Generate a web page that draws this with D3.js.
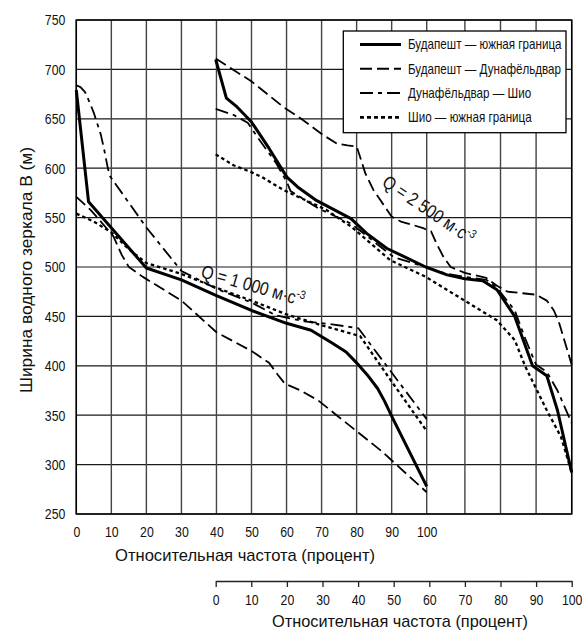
<!DOCTYPE html>
<html>
<head>
<meta charset="utf-8">
<script src="https://cdn.jsdelivr.net/npm/d3@7"></script>
<style>
  html, body { margin: 0; padding: 0; background: #fff; }
  svg { display: block; }
  text { font-family: "Liberation Sans", Arial, sans-serif; fill: #111; }
</style>
</head>
<body>
<svg id="chart" width="584" height="630"></svg>
<script>
// ---- Q = 1 000 m·s-3 : plotted against the upper (first) frequency axis ----
const q1000BudapestSouth = [[0,679],[3.5,566],[20,499],[30,487],[40,471],[50,456],[60,443],[63,440],[67,436],[73,423],[77,414],[80,403],[83,391],[86,377],[88,364],[90,349],[100,278]];
const q1000BudapestDunafoldvar = [[0,571],[4,558],[7,546],[10.6,531],[13,512],[15,500],[19,490],[30,466],[40,434],[50,415],[55,403],[57.5,391],[59.5,382],[64,375],[69,365],[75,348],[87,314],[100,272]];
const q1000DunafoldvarSio = [[0,684],[1.2,682],[2.5,677],[4,665],[5,656],[6,645],[7,634],[8,618],[9,600],[9.6,592],[20,540],[30,496],[40,478],[50,464],[57,451],[65,445],[73,442],[80.5,438],[100,346]];
const q1000SioSouth = [[0,554],[5,546],[10,535],[15,518],[20,504],[30,493],[40,479],[50,466],[60,452],[70,441],[81,430],[90,384],[100,334]];

// ---- Q = 2 500 m·s-3 : plotted against the lower (second) frequency axis ----
const q2500BudapestSouth = [[0,710],[3,671],[6,662],[10,647],[15,620],[20,591],[23,581],[28,568],[38,549],[42.4,534],[48,519],[59,500],[65,492],[70,488],[75,486],[79,477],[84,450],[89,400],[93,390],[96,355],[100,292]];
const q2500BudapestDunafoldvar = [[0,711],[10,688],[19,662],[24,650],[30,634],[34,625],[37,623],[39.6,622],[40.5,612],[42,595],[44.3,578],[46.2,568],[49.4,551],[52,546],[55,543],[58.5,539],[60.5,536],[62,524],[64,510],[66,500],[70,494],[76,489],[79,481],[82,475],[90,472],[93,466],[95,456],[96.5,443],[100,401]];
const q2500DunafoldvarSio = [[0,660],[5,654],[9,646],[12,630],[17,605],[20,586],[21,577],[29,559],[38,544],[50,510],[59,500],[65,493],[70,490],[76,487],[79,479],[84,456],[87,427],[90,401],[93,394],[96,375],[100,342]];
const q2500SioSouth = [[0,614],[5,603],[10,596],[13,591],[19,578],[25,568],[31,558],[38,541],[49,507],[59,490],[69,468],[79,446],[84,426],[87,399],[93,355],[97,328],[100,292]];

const seriesNames = ["Будапешт — южная граница", "Будапешт — Дунафёльдвар", "Дунафёльдвар — Шио", "Шио — южная граница"];
const yTicks = [250, 300, 350, 400, 450, 500, 550, 600, 650, 700, 750];
const xTicks = [0, 10, 20, 30, 40, 50, 60, 70, 80, 90, 100];
const yTitle = "Ширина водного зеркала B (м)";
const xTitle = "Относительная частота  (процент)";
const flowLabels = ["Q = 1 000 м·с", "Q = 2 500 м·с"];
const flowExponent = "-3";

// line styles per reach: solid, long dash, dash-dot, dotted
const styles = [
  { dash: null, width: 3 },
  { dash: "12,5", width: 1.8 },
  { dash: "13,5,4,5", width: 1.8 },
  { dash: "3.5,3", width: 2.3 }
];

// horizontal squeeze giving the narrow typeface look
const NARROW = 0.82;
function condense(sel, k) {
  sel.each(function () {
    const t = d3.select(this);
    const tx = +t.attr("x") || 0, ty = +t.attr("y") || 0;
    const base = t.attr("transform") || "";
    t.attr("transform", `${base} translate(${tx},${ty}) scale(${k},1) translate(${-tx},${-ty})`);
  });
}

const svg = d3.select("#chart");
const plotLeft = 76.3, plotRight = 571.7, plotTop = 20, plotBottom = 514;

const y = d3.scaleLinear().domain([250, 750]).range([plotBottom, plotTop]);
const x1 = d3.scaleLinear().domain([0, 100]).range([plotLeft, 426.7]);
const x2 = d3.scaleLinear().domain([0, 100]).range([215.7, plotRight]);

// grid
const grid = svg.append("g");
grid.selectAll("line.h").data(yTicks).join("line").attr("class", "h")
  .attr("stroke", "#1a1a1a").attr("stroke-width", 1.2)
  .attr("x1", plotLeft).attr("x2", plotRight)
  .attr("y1", d => y(d)).attr("y2", d => y(d));
grid.selectAll("line.v1").data(xTicks).join("line").attr("class", "v1")
  .attr("stroke", "#444").attr("stroke-width", 1.4)
  .attr("x1", d => x1(d)).attr("x2", d => x1(d))
  .attr("y1", plotTop).attr("y2", plotBottom);
grid.selectAll("line.v2").data(xTicks.filter(t => t >= 70)).join("line").attr("class", "v2")
  .attr("stroke", "#444").attr("stroke-width", 1.4)
  .attr("x1", d => x2(d)).attr("x2", d => x2(d))
  .attr("y1", plotTop).attr("y2", plotBottom);

svg.append("rect")
  .attr("x", plotLeft).attr("y", plotTop)
  .attr("width", plotRight - plotLeft).attr("height", plotBottom - plotTop)
  .attr("fill", "none").attr("stroke", "#000").attr("stroke-width", 1.5);

// y axis labels
const yAxis = svg.append("g").attr("transform", `translate(${plotLeft},0)`)
  .call(d3.axisLeft(y).tickValues(yTicks).tickSize(0).tickPadding(11));
yAxis.select(".domain").remove();
yAxis.attr("font-family", null).attr("font-size", null);
yAxis.selectAll("text").attr("font-size", 15).attr("fill", "#111").call(condense, NARROW);

// first frequency axis (labels only, the frame acts as the axis line)
const xAxis1 = svg.append("g").attr("transform", `translate(0,${plotBottom})`)
  .call(d3.axisBottom(x1).tickValues(xTicks).tickSize(0).tickPadding(12.5).tickFormat(d3.format("d")));
xAxis1.select(".domain").remove();
xAxis1.attr("font-family", null).attr("font-size", null);
xAxis1.selectAll("text").attr("font-size", 15).attr("fill", "#111").call(condense, NARROW);

// second frequency axis
const xAxis2 = svg.append("g").attr("transform", "translate(0,581)")
  .call(d3.axisBottom(x2).tickValues(xTicks).tickSizeInner(6).tickSizeOuter(0).tickPadding(7.5).tickFormat(d3.format("d")));
xAxis2.attr("font-family", null).attr("font-size", null);
xAxis2.select(".domain").attr("stroke", "#222").attr("stroke-width", 1.3);
xAxis2.selectAll(".tick line").attr("stroke", "#222").attr("stroke-width", 1.3);
xAxis2.selectAll("text").attr("font-size", 15).attr("fill", "#111").call(condense, NARROW);

// axis titles
svg.append("text").attr("x", 245).attr("y", 561).attr("text-anchor", "middle")
  .attr("font-size", 17).attr("textLength", 260).attr("lengthAdjust", "spacingAndGlyphs").text(xTitle);
svg.append("text").attr("x", 400).attr("y", 627).attr("text-anchor", "middle")
  .attr("font-size", 17).attr("textLength", 256).attr("lengthAdjust", "spacingAndGlyphs").text(xTitle);
svg.append("text").attr("transform", "translate(32,270) rotate(-90)").attr("text-anchor", "middle")
  .attr("font-size", 17).attr("textLength", 246).attr("lengthAdjust", "spacingAndGlyphs").text(yTitle);

// curves
const groups = [
  { x: x1, series: [q1000BudapestSouth, q1000BudapestDunafoldvar, q1000DunafoldvarSio, q1000SioSouth] },
  { x: x2, series: [q2500BudapestSouth, q2500BudapestDunafoldvar, q2500DunafoldvarSio, q2500SioSouth] }
];
const curves = svg.append("g").attr("fill", "none").attr("stroke", "#000");
groups.forEach(g => {
  const line = d3.line().x(d => g.x(d[0])).y(d => y(d[1]));
  g.series.forEach((s, i) => {
    curves.append("path").attr("d", line(s))
      .attr("stroke-width", styles[i].width)
      .attr("stroke-dasharray", styles[i].dash)
      .attr("stroke-linejoin", "round");
  });
});

// flow labels along the curve bundles
function flowLabel(px, py, angle, txt) {
  const t = svg.append("text")
    .attr("transform", `translate(${px},${py}) rotate(${angle}) scale(0.85,1)`)
    .attr("font-size", 18.5);
  t.append("tspan").text(txt);
  t.append("tspan").attr("dy", -7).attr("font-size", 12).text(flowExponent);
}
flowLabel(x1(35.3), y(490), 16, flowLabels[0]);
flowLabel(x2(46.4), y(583), 34, flowLabels[1]);

// legend
const legend = svg.append("g");
legend.append("rect").attr("x", 343.3).attr("y", 31).attr("width", 222.7).attr("height", 101.7)
  .attr("fill", "#fff").attr("stroke", "#000").attr("stroke-width", 1.3);
seriesNames.forEach((name, i) => {
  const ry = 44.5 + i * 24.3;
  legend.append("line").attr("x1", 360).attr("x2", 401).attr("y1", ry).attr("y2", ry)
    .attr("stroke", "#000").attr("stroke-width", i === 0 ? 3 : (i === 3 ? 2.6 : 2))
    .attr("stroke-dasharray", i === 3 ? "4,3" : styles[i].dash);
  legend.append("text").attr("x", 408).attr("y", ry + 4.8).attr("font-size", 14.2).text(name)
    .call(condense, NARROW);
});
</script>
</body>
</html>
